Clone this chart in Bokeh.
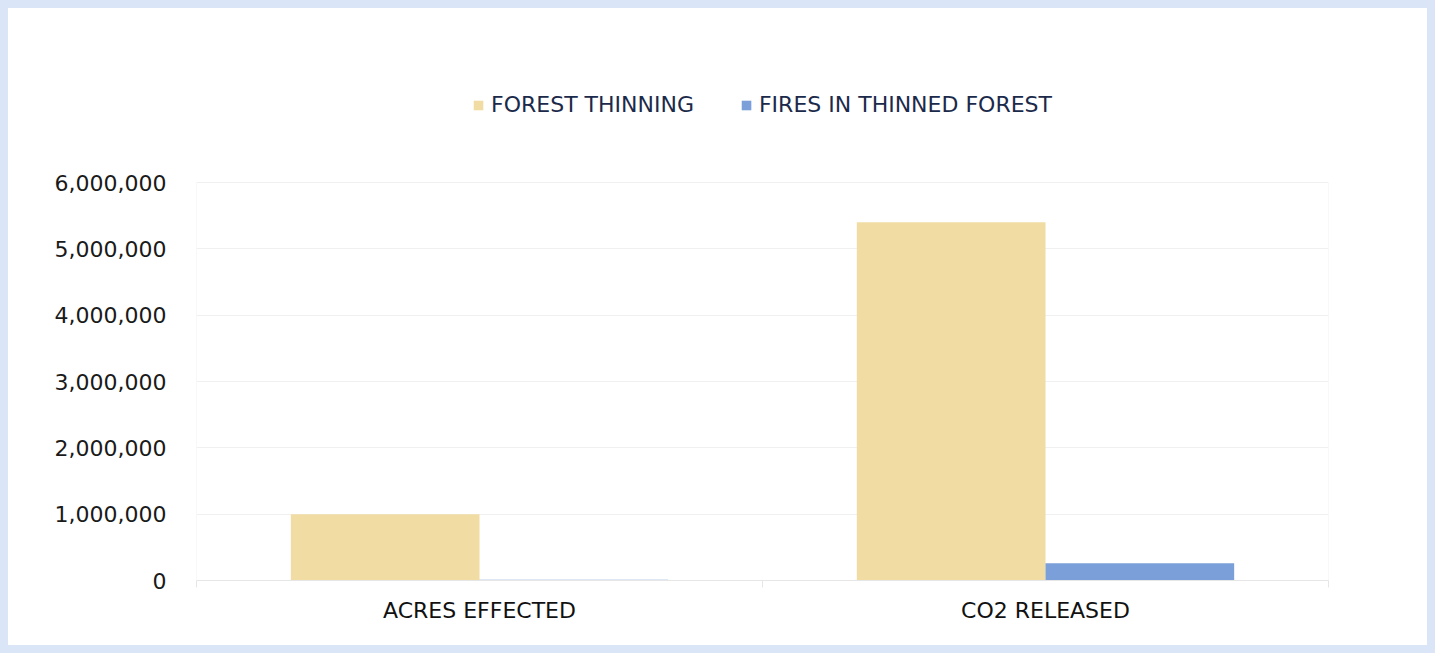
from bokeh.plotting import figure
from bokeh.models import (ColumnDataSource, Range1d, FixedTicker,
                          NumeralTickFormatter, Legend, LegendItem)
from bokeh.embed import file_html
from bokeh.resources import INLINE

categories = ["ACRES EFFECTED", "CO2 RELEASED"]
forest_thinning = [1000000, 5400000]
fires_thinned = [12000, 260000]
y_ticks = [0, 1000000, 2000000, 3000000, 4000000, 5000000, 6000000]
series_names = ["FOREST THINNING", "FIRES IN THINNED FOREST"]
colors = ["#f1dca3", "#7b9fd8"]

FONT = "DejaVu Sans"

# layout (pixels): the value axis spans 398 px; extra headroom above it holds the legend
AXIS_PX = 398
TOP_PX = 80
HEAD_PX = 94
FIG_W, FIG_H = 1419, 637

n = len(categories)
idx = list(range(n))
centers = [i + 0.5 for i in idx]          # category centres on a unit-width band scale
bar_w = 1 / 3
src = ColumnDataSource(dict(
    cat=categories,
    x1=[c - bar_w / 2 for c in centers],
    x2=[c + bar_w / 2 for c in centers],
    ft=forest_thinning, fi=fires_thinned))

y_max = y_ticks[-1]
y_end = y_max * (AXIS_PX + HEAD_PX) / AXIS_PX

p = figure(x_range=Range1d(0, n), y_range=Range1d(0, y_end),
           width=FIG_W, height=FIG_H, output_backend="svg", toolbar_location=None,
           min_border_left=188, min_border_right=99, min_border_top=TOP_PX,
           min_border_bottom=65)
p.outline_line_color = None
p.border_fill_color = "white"
p.background_fill_color = "white"

# faint edge lines of the plotting band
p.segment(x0=[0, n], y0=[0, 0], x1=[0, n], y1=[y_max, y_max], line_color="#f2f2f2", line_width=1)

r1 = p.vbar(x="x1", top="ft", width=bar_w, source=src, fill_color=colors[0], line_color=None)
r2 = p.vbar(x="x2", top="fi", width=bar_w, source=src, fill_color=colors[1], line_color=None)

# y axis
ya = p.yaxis[0]
ya.ticker = FixedTicker(ticks=y_ticks)
ya.formatter = NumeralTickFormatter(format="0,0")
ya.axis_line_color = None
ya.major_tick_line_color = None
ya.minor_tick_line_color = None
ya.major_tick_out = 0
ya.major_tick_in = 0
ya.major_label_standoff = 30
ya.major_label_text_font = FONT
ya.major_label_text_font_size = "22px"
ya.major_label_text_color = "#1a1a1a"

p.ygrid.ticker = FixedTicker(ticks=y_ticks)
p.ygrid.grid_line_color = "#f0f0f0"
p.xgrid.grid_line_color = None
p.xgrid.visible = False

# x axis: labels at category centres, small ticks at category boundaries
xa = p.xaxis[0]
xa.ticker = FixedTicker(ticks=centers, minor_ticks=list(range(n + 1)))
xa.major_label_overrides = {c: lab for c, lab in zip(centers, categories)}
xa.major_tick_line_color = None
xa.major_tick_out = 0
xa.major_tick_in = 0
xa.minor_tick_out = 7
xa.minor_tick_in = 0
xa.minor_tick_line_color = "#e6e6e6"
xa.axis_line_color = "#e6e6e6"
xa.major_label_standoff = 10
xa.major_label_text_font = FONT
xa.major_label_text_font_size = "22px"
xa.major_label_text_color = "#111111"

legend = Legend(items=[LegendItem(label=series_names[0], renderers=[r1]),
                       LegendItem(label=series_names[1], renderers=[r2])],
                orientation="horizontal", location="top_center",
                glyph_width=12, glyph_height=12, label_standoff=7, spacing=46,
                label_text_font=FONT, label_text_font_size="22px",
                label_text_color="#1b2a4a", border_line_color=None,
                background_fill_alpha=0, padding=0, margin=4)
p.add_layout(legend, "center")

style = ("<style>html{background-color:#dae5f7 !important;}"
         " body{background-color:#ffffff !important; margin:8px !important;"
         " height:%dpx !important; overflow:hidden;}</style>" % FIG_H)
open("out.html", "w").write(file_html(p, INLINE).replace("</head>", style + "</head>"))
